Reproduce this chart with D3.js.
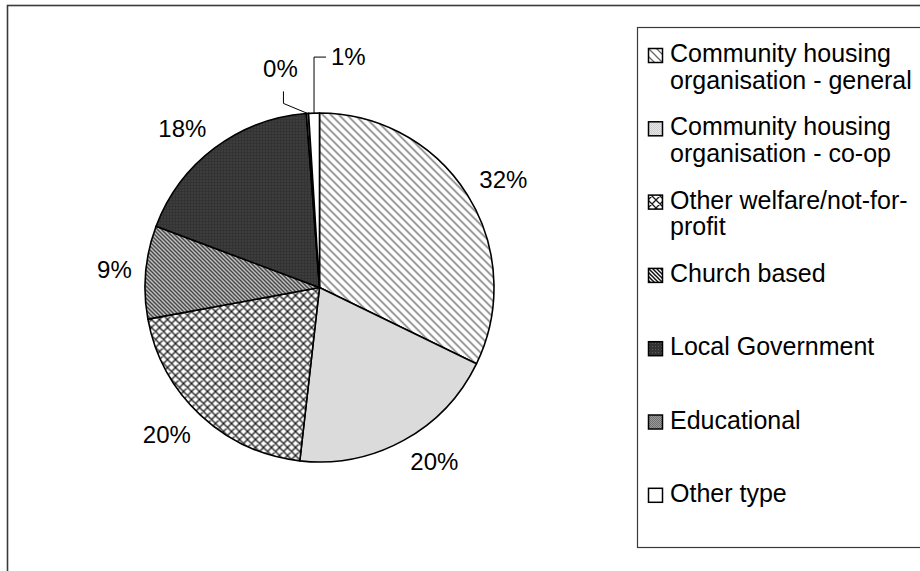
<!DOCTYPE html>
<html>
<head>
<meta charset="utf-8">
<script src="https://cdn.jsdelivr.net/npm/d3@7"></script>
<style>
  html, body { margin: 0; padding: 0; background: #fff; }
  svg { display: block; font-family: "Liberation Sans", Arial, sans-serif; }
</style>
</head>
<body>
<svg id="chart" width="920" height="571"></svg>
<script>
// Housing provider types (share of organisations, %)
const categories = [
  "Community housing organisation - general",
  "Community housing organisation - co-op",
  "Other welfare/not-for-profit",
  "Church based",
  "Local Government",
  "Educational",
  "Other type"
];
const legendLines = [
  ["Community housing", "organisation - general"],
  ["Community housing", "organisation - co-op"],
  ["Other welfare/not-for-", "profit"],
  ["Church based"],
  ["Local Government"],
  ["Educational"],
  ["Other type"]
];
const shares = [32.2, 19.6, 20.3, 8.6, 18.1, 0.2, 1.0];
const fillIds = ["pGeneral", "pCoop", "pWelfare", "pChurch", "pLocal", "pEdu", "pOther"];

const svg = d3.select("#chart");
const defs = svg.append("defs");

// ---- fill patterns ----
function pat(id, size) {
  return defs.append("pattern").attr("id", id)
    .attr("patternUnits", "userSpaceOnUse")
    .attr("width", size).attr("height", size);
}
// wide diagonal hatch
{
  const p = pat("pGeneral", 8);
  p.append("rect").attr("width", 8).attr("height", 8).attr("fill", "#fff");
  p.append("path").attr("d", "M-2,-2 L10,10 M-2,6 L2,10 M6,-2 L10,2")
    .attr("stroke", "#666").attr("stroke-width", 1.3);
}
// light grey stipple
{
  const p = pat("pCoop", 2);
  p.append("rect").attr("width", 2).attr("height", 2).attr("fill", "#e6e6e6");
  p.append("rect").attr("width", 1).attr("height", 1).attr("fill", "#cfcfcf");
  p.append("rect").attr("x", 1).attr("y", 1).attr("width", 1).attr("height", 1).attr("fill", "#cfcfcf");
}
// diamond cross-hatch
{
  const p = pat("pWelfare", 8);
  p.append("rect").attr("width", 8).attr("height", 8).attr("fill", "#fff");
  p.append("path").attr("d", "M-2,-2 L10,10 M-2,6 L2,10 M6,-2 L10,2 M-2,10 L10,-2 M-2,2 L2,-2 M6,10 L10,6")
    .attr("stroke", "#1a1a1a").attr("stroke-width", 1.3);
}
// dense diagonal stripes
{
  const p = pat("pChurch", 4);
  p.append("rect").attr("width", 4).attr("height", 4).attr("fill", "#fff");
  p.append("path").attr("d", "M-1,-1 L5,5 M-1,3 L1,5 M3,-1 L5,1")
    .attr("stroke", "#111").attr("stroke-width", 1.5);
}
// dark stipple
{
  const p = pat("pLocal", 3);
  p.append("rect").attr("width", 3).attr("height", 3).attr("fill", "#333");
  p.append("rect").attr("x", 1).attr("y", 1).attr("width", 1).attr("height", 1).attr("fill", "#5a5a5a");
}
// mid grey stipple
{
  const p = pat("pEdu", 2);
  p.append("rect").attr("width", 2).attr("height", 2).attr("fill", "#9a9a9a");
  p.append("rect").attr("width", 1).attr("height", 1).attr("fill", "#707070");
  p.append("rect").attr("x", 1).attr("y", 1).attr("width", 1).attr("height", 1).attr("fill", "#707070");
}
{
  const p = pat("pOther", 2);
  p.append("rect").attr("width", 2).attr("height", 2).attr("fill", "#fff");
}

// ---- chart frame (runs off the right and bottom edges) ----
svg.append("rect").attr("x", 7.5).attr("y", 5.5).attr("width", 1000).attr("height", 700)
  .attr("fill", "#fff").attr("stroke", "#3a3a3a").attr("stroke-width", 1.6);

// ---- pie ----
const cx = 319.5, cy = 287.5, r = 174.5;
const pie = d3.pie().sort(null).value(d => d)(shares);
const arc = d3.arc().innerRadius(0).outerRadius(r);
const g = svg.append("g").attr("transform", `translate(${cx},${cy})`);

g.selectAll("path.slice").data(pie).join("path")
  .attr("class", "slice")
  .attr("d", arc)
  .attr("fill", (d, i) => `url(#${fillIds[i]})`)
  .attr("stroke", "#000").attr("stroke-width", 1.6)
  .attr("stroke-linejoin", "round");

// ---- data labels ----
const labelSize = 24;
const labelGap = 14;
const fmt = v => Math.round(v) + "%";
const capH = labelSize * 0.72;
const clamp = v => Math.max(-1, Math.min(1, v));

// tiny slices get labels pulled out with elbow leader lines
const leaders = {
  5: { elbow: [[-24, -10], [-24, -22]], text: [-27, -45], anchor: "middle" },
  6: { elbow: [[0, -56], [12, -56]], text: [17, -57], anchor: "start" }
};

const labels = g.append("g");
pie.forEach((d, i) => {
  const a = (d.startAngle + d.endAngle) / 2;
  const ux = Math.sin(a), uy = -Math.cos(a);
  const txt = fmt(shares[i]);
  if (leaders[i]) {
    const L = leaders[i];
    const px = r * ux, py = r * uy;
    const pts = [[px, py]].concat(L.elbow.map(e => [px + e[0], py + e[1]]));
    labels.append("path").attr("d", d3.line()(pts))
      .attr("fill", "none").attr("stroke", "#000").attr("stroke-width", 1);
    labels.append("text").attr("x", px + L.text[0]).attr("y", py + L.text[1])
      .attr("text-anchor", L.anchor).attr("dominant-baseline", "central")
      .attr("font-size", labelSize).attr("fill", "#000").text(txt);
    return;
  }
  const px = (r + labelGap) * ux, py = (r + labelGap) * uy;
  const t = labels.append("text").attr("font-size", labelSize).attr("fill", "#000").text(txt);
  const w = t.node().getComputedTextLength();
  const tx = px + clamp(ux * 2.5) * w / 2;
  const ty = py + clamp(uy * 2.5) * capH / 2;
  t.attr("x", tx).attr("y", ty + capH / 2).attr("text-anchor", "middle");
});

// ---- legend (box runs off the right edge) ----
const legendSize = 25;
const lgX = 637, lgY = 27, lgH = 520;
svg.append("rect").attr("x", lgX + 0.5).attr("y", lgY + 0.5).attr("width", 400).attr("height", lgH)
  .attr("fill", "#fff").attr("stroke", "#3a3a3a").attr("stroke-width", 1.2);

const step = 73.3;
const lg = svg.append("g");
categories.forEach((c, i) => {
  const base = lgY + 35 + i * step;
  lg.append("rect").attr("x", 648.5).attr("y", base - 13.5).attr("width", 14).attr("height", 14)
    .attr("fill", `url(#${fillIds[i]})`).attr("stroke", "#000").attr("stroke-width", 1.5);
  legendLines[i].forEach((ln, j) => {
    lg.append("text").attr("x", 670).attr("y", base + j * 26.5)
      .attr("font-size", legendSize).attr("fill", "#000").text(ln);
  });
});
</script>
</body>
</html>
